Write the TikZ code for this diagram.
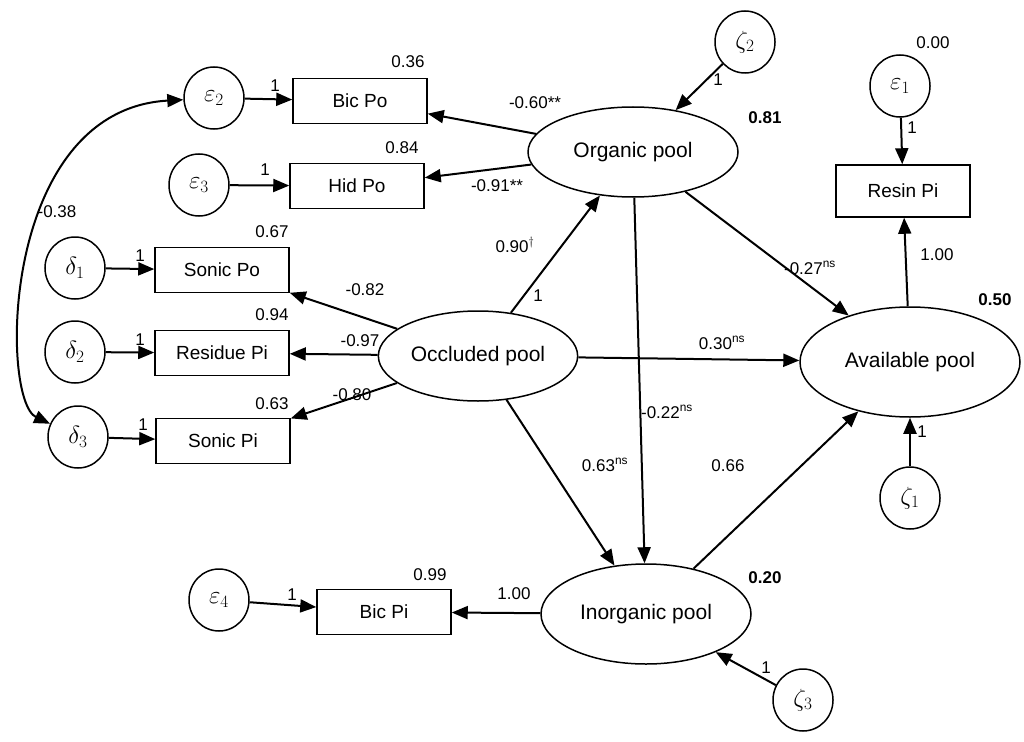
\documentclass[tikz,border=0pt]{standalone}
\usepackage{fontspec}
\setmainfont{Liberation Sans}
\usetikzlibrary{arrows.meta, shapes.geometric}
\tikzset{
  latent/.style={ellipse, draw, line width=1.5pt, font=\fontsize{21}{24}\selectfont},
  err/.style={ellipse, draw, line width=1.5pt, minimum width=60pt, minimum height=62pt, inner sep=0pt, font=\fontsize{24}{26}\selectfont},
  obs/.style={rectangle, draw, line width=1.5pt, minimum width=134pt, minimum height=45pt, font=\fontsize{19}{22}\selectfont},
  path/.style={-{Triangle[length=16pt,width=13pt]}, line width=2pt},
  lab/.style={font=\fontsize{17}{20}\selectfont},
  blab/.style={font=\bfseries\fontsize{17}{20}\selectfont}
}
\begin{document}
\begin{tikzpicture}[x=1pt, y=-1pt]
\useasboundingbox (0,0) rectangle (1024,741);
% Latent variables
    \node[latent, minimum width=210pt, minimum height=90pt] (org) at (633,152) {Organic pool};
    \node[latent, minimum width=180pt, minimum height=90pt] (occ) at (478,356) {Occluded pool};
    \node[latent, minimum width=220pt, minimum height=110pt] (ava) at (910,362) {Available pool};
    \node[latent, minimum width=210pt, minimum height=100pt] (ino) at (646,614) {Inorganic pool};
% Observed variables
    \node[obs] (bicpo) at (360,101) {Bic Po};
    \node[obs] (hidpo) at (357,186) {Hid Po};
    \node[obs, minimum height=52pt] (resin) at (903,191) {Resin Pi};
    \node[obs] (sonpo) at (222,270) {Sonic Po};
    \node[obs] (respi) at (222,353) {Residue Pi};
    \node[obs] (sonpi) at (223,441) {Sonic Pi};
    \node[obs] (bicpi) at (384,612) {Bic Pi};
% Error terms
    \node[err] (e2) at (214,98) {$\varepsilon_2$};
    \node[err] (e3) at (199,185) {$\varepsilon_3$};
    \node[err] (e1) at (900,86) {$\varepsilon_1$};
    \node[err] (e4) at (219,600) {$\varepsilon_4$};
    \node[err] (d1) at (75,268) {$\delta_1$};
    \node[err] (d2) at (75,352) {$\delta_2$};
    \node[err] (d3) at (78,437) {$\delta_3$};
    \node[err] (z2) at (745,42) {$\zeta_2$};
    \node[err] (z1) at (910,498) {$\zeta_1$};
    \node[err] (z3) at (803,700) {$\zeta_3$};
% Error paths
    \draw[path] (e2) -- (bicpo);
    \draw[path] (e3) -- (hidpo);
    \draw[path] (e1) -- (resin);
    \draw[path] (e4) -- (bicpi);
    \draw[path] (d1) -- (sonpo);
    \draw[path] (d2) -- (respi);
    \draw[path] (d3) -- (sonpi);
    \draw[path] (z2) -- (org);
    \draw[path] (z1) -- (ava);
    \draw[path] (z3) -- (ino);
    \draw[{Triangle[length=16pt,width=13pt]}-{Triangle[length=16pt,width=13pt]}, line width=2pt]
      (e2) .. controls (0,110) and (0,400) .. (d3);
% Structural paths
    \draw[path] (org) -- (bicpo);
    \draw[path] (org) -- (hidpo);
    \draw[path] (occ) -- (org);
    \draw[path] (org) -- (ava);
    \draw[path] (ava) -- (resin);
    \draw[path] (occ) -- (sonpo);
    \draw[path] (occ) -- (respi);
    \draw[path] (occ) -- (sonpi);
    \draw[path] (occ) -- (ava);
    \draw[path] (org) -- (ino);
    \draw[path] (occ) -- (ino);
    \draw[path] (ino) -- (ava);
    \draw[path] (ino) -- (bicpi);
% Labels
    \node[lab] at (408,62) {0.36};
    \node[lab] at (402,148) {0.84};
    \node[lab] at (933,43) {0.00};
    \node[lab] at (272,232) {0.67};
    \node[lab] at (272,315) {0.94};
    \node[lab] at (272,404) {0.63};
    \node[lab] at (430,575) {0.99};
    \node[blab] at (765,118) {0.81};
    \node[blab] at (995,300) {0.50};
    \node[blab] at (765,578) {0.20};
    \node[lab] at (57,212) {-0.38};
    \node[lab] at (535,103) {-0.60**};
    \node[lab] at (497,186) {-0.91**};
    \node[lab] at (515,245) {0.90$^\dagger$};
    \node[lab] at (538,296) {1};
    \node[lab] at (810,268) {-0.27$^{\mathrm{ns}}$};
    \node[lab] at (937,255) {1.00};
    \node[lab] at (912,128) {1};
    \node[lab] at (718,80) {1};
    \node[lab] at (365,290) {-0.82};
    \node[lab] at (360,341) {-0.97};
    \node[lab] at (352,395) {-0.80};
    \node[lab] at (722,343) {0.30$^{\mathrm{ns}}$};
    \node[lab] at (667,412) {-0.22$^{\mathrm{ns}}$};
    \node[lab] at (605,465) {0.63$^{\mathrm{ns}}$};
    \node[lab] at (728,466) {0.66};
    \node[lab] at (514,594) {1.00};
    \node[lab] at (922,432) {1};
    \node[lab] at (766,668) {1};
    \node[lab] at (275,86) {1};
    \node[lab] at (265,170) {1};
    \node[lab] at (140,256) {1};
    \node[lab] at (140,340) {1};
    \node[lab] at (143,425) {1};
    \node[lab] at (292,595) {1};
\end{tikzpicture}
\end{document}
